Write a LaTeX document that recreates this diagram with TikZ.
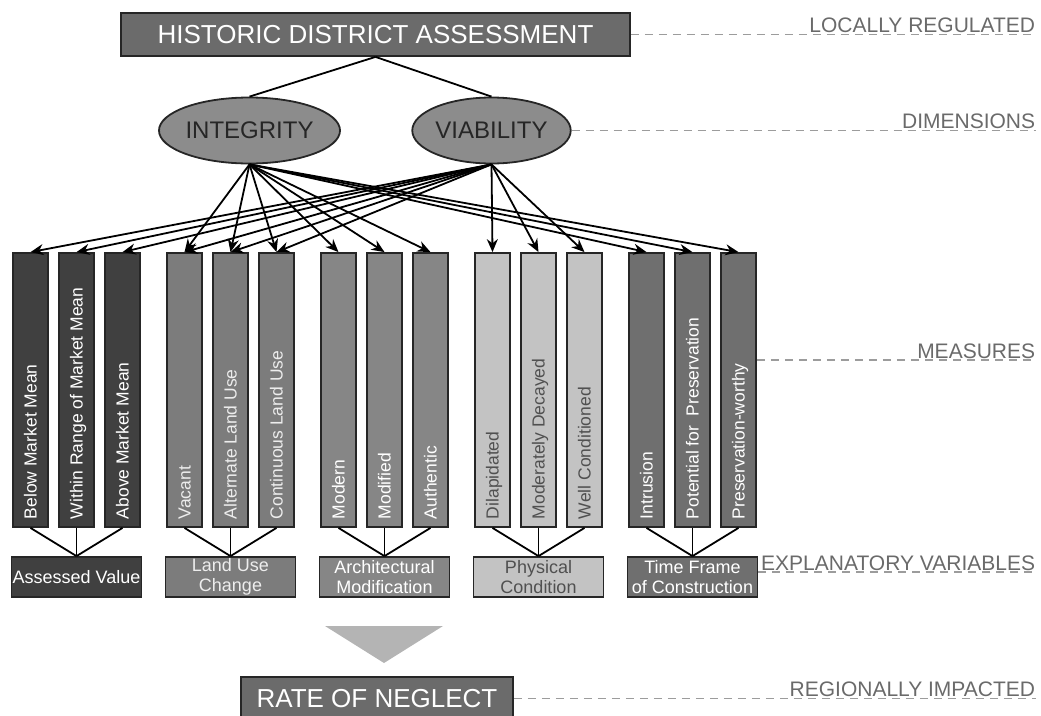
\documentclass[tikz,border=0pt]{standalone}
\usepackage{fontspec}
\setmainfont{Liberation Sans}
\usetikzlibrary{arrows.meta,shapes.geometric,positioning}

\definecolor{headgray}{HTML}{6B6B6B}
\definecolor{dimgray}{HTML}{8C8C8C}
\definecolor{grp0}{HTML}{404040}
\definecolor{grp1}{HTML}{7C7C7C}
\definecolor{grp2}{HTML}{868686}
\definecolor{grp3}{HTML}{C3C3C3}
\definecolor{grp4}{HTML}{6F6F6F}
\definecolor{txt0}{HTML}{FFFFFF}
\definecolor{txt1}{HTML}{EDEDED}
\definecolor{txt2}{HTML}{FFFFFF}
\definecolor{txt3}{HTML}{505050}
\definecolor{txt4}{HTML}{FFFFFF}
\definecolor{lvlgray}{HTML}{9C9C9C}
\definecolor{lvltxt}{HTML}{6A6A6A}
\definecolor{flowgray}{HTML}{B4B4B4}

\begin{document}
\begin{tikzpicture}[x=1pt,y=-1pt,line width=1.8pt,
    >={Stealth[length=13pt,width=11pt]},
    box/.style={draw=black!85,line width=1.8pt,inner sep=0pt},
    head/.style={box,fill=headgray,text=white,minimum height=43pt,font=\fontsize{26}{26}\selectfont},
    dim/.style={box,ellipse,fill=dimgray,text=black!85,minimum width=155pt,minimum height=66pt,font=\fontsize{24}{24}\selectfont},
    bar/.style={box,minimum width=35pt,minimum height=274pt},
    barlabel/.style={rotate=90,anchor=west,inner sep=0pt,text height=12pt,text depth=0pt,font=\fontsize{17.5}{17.5}\selectfont},
    var/.style={box,minimum width=130pt,minimum height=40pt,align=center,font=\fontsize{18}{20}\selectfont},
    lvl/.style={draw=lvlgray,line width=1.4pt,dash pattern=on 8pt off 6pt},
    lvltext/.style={anchor=base east,inner sep=0pt,yshift=2pt,text=lvltxt,font=\fontsize{21}{21}\selectfont}]
  \useasboundingbox (0,0) rectangle (1041,715);

  \node[head,minimum width=509pt] (top) at (375.5,34.5) {HISTORIC DISTRICT ASSESSMENT};
  \node[dim] (int) at (249.5,130.5) {INTEGRITY};
  \node[dim] (via) at (491.5,130.5) {VIABILITY};
  \draw (top.south) -- (int.north);
  \draw (top.south) -- (via.north);

  % measures
  \foreach \g/\k/\txt in {0/0/Below Market Mean,0/1/Within Range of Market Mean,0/2/Above Market Mean,
      1/0/Vacant,1/1/Alternate Land Use,1/2/Continuous Land Use,
      2/0/Modern,2/1/Modified,2/2/Authentic,
      3/0/Dilapidated,3/1/Moderately Decayed,3/2/Well Conditioned,
      4/0/Intrusion,4/1/Potential for~ Preservation,4/2/Preservation-worthy}{
    \node[bar,fill=grp\g] (m_\g\k) at ({30.5+154*\g+46*\k},390) {};
    \node[barlabel,text=txt\g] at ({30.5+154*\g+46*\k},520) {\txt};
  }

  % explanatory variables
  \foreach \g/\txt in {0/Assessed Value,1/Land Use\\Change,2/Architectural\\Modification,
      3/Physical\\Condition,4/Time Frame\\of Construction}{
    \node[var,fill=grp\g,text=txt\g] (v_\g) at ({76.5+154*\g},577) {\txt};
    \foreach \k in {0,1,2}
      \draw (m_\g\k.south) -- (v_\g.north);
  }

  \foreach \t in {10,11,12,20,21,22,40,41,42}
    \draw[->] (int.south) -- (m_\t.north);
  \foreach \t in {00,01,02,10,11,12,30,31,32}
    \draw[->] (via.south) -- (m_\t.north);

  \fill[flowgray] (325,626) -- (443,626) -- (384,663) -- cycle;
  \node[head,minimum width=272pt] (rate) at (377,698.5) {RATE OF NEGLECT};

  % levels
  \coordinate (r) at (1036,0);
  \coordinate (meas) at (1036,360);
  \coordinate (expl) at (1036,572);
  \draw[lvl] (top.east) -- (top.east -| r);
  \draw[lvl] (via.east) -- (via.east -| r);
  \draw[lvl] (meas -| m_42.east) -- (meas);
  \draw[lvl] (expl -| v_4.east) -- (expl);
  \draw[lvl] (rate.east) -- (rate.east -| r);
  \node[lvltext] at (top.east -| r) {LOCALLY REGULATED};
  \node[lvltext] at (via.east -| r) {DIMENSIONS};
  \node[lvltext] at (meas) {MEASURES};
  \node[lvltext] at (expl) {EXPLANATORY VARIABLES};
  \node[lvltext] at (rate.east -| r) {REGIONALLY IMPACTED};
\end{tikzpicture}
\end{document}
